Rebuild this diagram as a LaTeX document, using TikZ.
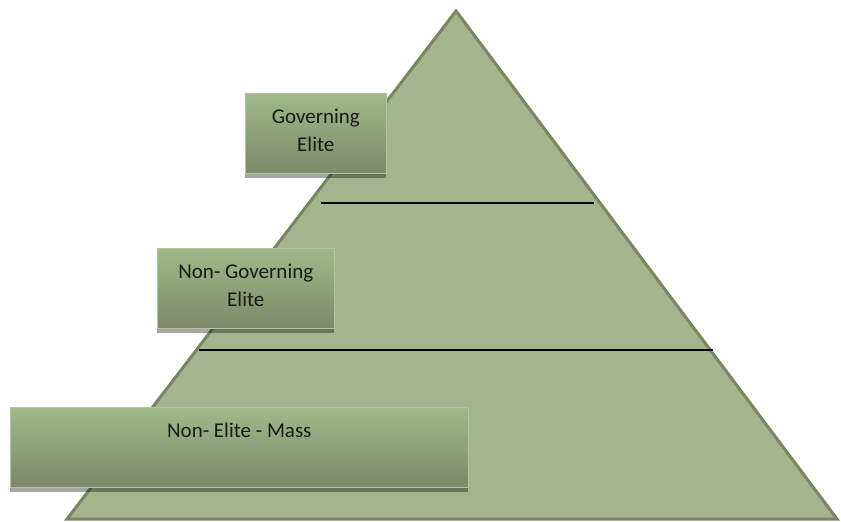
\documentclass[tikz,border=0pt]{standalone}
\usepackage{fontspec}
\setmainfont{Carlito}
\definecolor{pyrfill}{HTML}{A4B58E}
\definecolor{pyredge}{HTML}{77865F}
\definecolor{boxtop}{HTML}{A0B98A}
\definecolor{boxbot}{HTML}{7C8967}
\definecolor{boxedge}{HTML}{B4C4A0}
\tikzset{
  tier/.style={rectangle, anchor=north west, top color=boxtop, bottom color=boxbot,
    draw=boxedge, line width=0.6pt, inner sep=0pt},
  tiertext/.style={anchor=north, align=center, inner sep=0pt,
    font=\fontsize{21}{28}\selectfont, text=black!90},
  tiershadow/.style={fill=black, fill opacity=0.35, draw=none},
  divider/.style={draw=black, line width=1.2pt}
}
\begin{document}
\begin{tikzpicture}[x=1pt,y=-1pt]
\useasboundingbox (0,0) rectangle (841,522);
% pyramid
\coordinate (apex) at (456,11);
\coordinate (bl) at (67,519);
\coordinate (br) at (837,519);
\draw[fill=pyrfill, draw=pyredge, line width=3pt, line join=miter] (apex) -- (br) -- (bl) -- cycle;
% level dividers
\coordinate (d1a) at (321,203);
\coordinate (d1b) at (594,203);
\coordinate (d2a) at (199,350);
\coordinate (d2b) at (713,350);
\draw[divider] (d1a) -- (d1b);
\draw[divider] (d2a) -- (d2b);
% drop shadows under the label boxes
\fill[tiershadow] (245,98) rectangle (386,178);
\fill[tiershadow] (157,253) rectangle (334,333);
\fill[tiershadow] (10,412) rectangle (468,492);
% tier labels
\node[tier, minimum width=141pt, minimum height=80pt] (gov) at (245,93) {};
\node[tiertext] (govt) at ([yshift=-16pt]gov.north) {Governing\\Elite};
\node[tier, minimum width=177pt, minimum height=80pt] (ngov) at (157,248) {};
\node[tiertext] (ngovt) at ([yshift=-16pt]ngov.north) {Non- Governing\\Elite};
\node[tier, minimum width=458pt, minimum height=80pt] (mass) at (10,407) {};
\node[tiertext] (masst) at ([yshift=-16pt]mass.north) {Non- Elite - Mass};
\end{tikzpicture}
\end{document}
